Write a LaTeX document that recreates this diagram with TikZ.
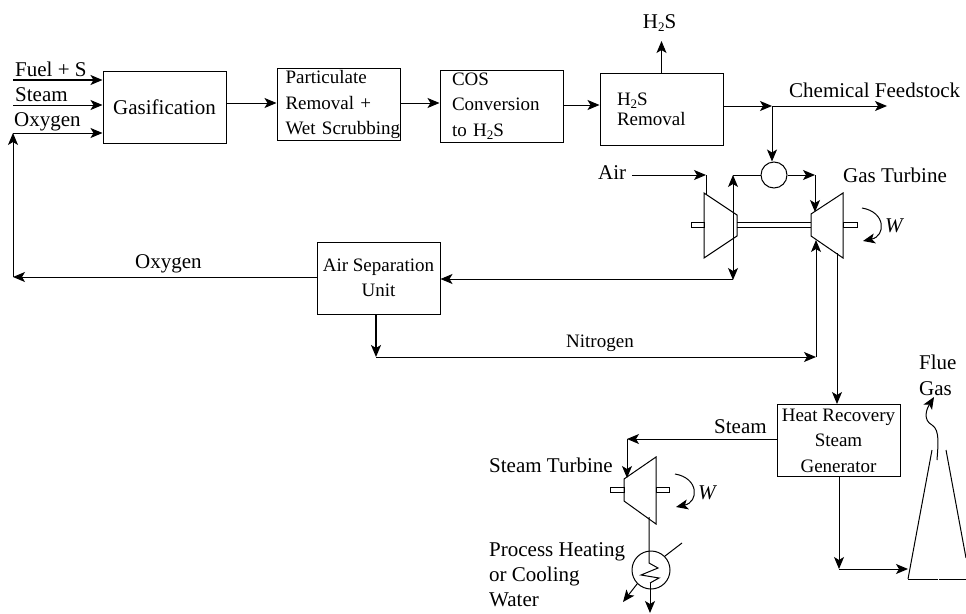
\documentclass[tikz,border=0pt]{standalone}
\usepackage{fontspec}
\setmainfont{Liberation Serif}
\usetikzlibrary{arrows.meta, positioning, calc}
\newcommand{\hydS}{H\raisebox{-3.5pt}{\fontsize{13}{13}\selectfont 2}S}
\tikzset{
  unitbox/.style={draw, line width=1pt, minimum width=123, minimum height=72, inner sep=0pt, align=center, font=\fontsize{19}{25.5}\selectfont},
  leftbox/.style={unitbox, align=left},
  lab/.style={inner sep=0pt, anchor=base west, align=left, font=\fontsize{21}{21}\selectfont},
  labsmall/.style={inner sep=0pt, anchor=base west, font=\fontsize{19}{19}\selectfont},
  arrow/.style={-{Stealth[length=12pt, width=10pt, inset=3pt]}, line width=1pt},
  twoway/.style={{Stealth[length=12pt, width=10pt, inset=3pt]}-{Stealth[length=12pt, width=10pt, inset=3pt]}, line width=1pt},
  thickarrow/.style={arrow, line width=1.6pt},
  pipe/.style={line width=1pt},
  mixer/.style={draw, circle, line width=1pt, minimum size=26, inner sep=0pt}
}
\begin{document}
\begin{tikzpicture}[x=1pt, y=-1pt]
\useasboundingbox (0,0) rectangle (966,613);
\node[unitbox, font=\fontsize{21}{25}\selectfont] (gasif) at (164.5,107) {Gasification};
\node[leftbox, text width=106, inner xsep=8.5] (partic) at (338.5,104.5) {Particulate\\Removal +\\\mbox{Wet Scrubbing}};
\node[leftbox, text width=99, inner xsep=12] (cos) at (501.5,106) {COS\\Conversion\\to \hydS};
\node[leftbox, text width=89, inner xsep=17, font=\fontsize{19}{20}\selectfont] (hsrem) at (661.5,109) {\hydS\\Removal};
\node[unitbox] (asu) at (378.5,278) {Air Separation\\Unit};
\node[unitbox] (hrsg) at (838.5,440.5) {Heat Recovery\\Steam\\Generator};
\node[mixer] (mix) at (774,175) {};
\node[draw, circle, line width=1pt, minimum size=38, inner sep=0pt] (cooler) at (651,570) {};

\node[lab] (fuel) at (15,76) {Fuel + S};
\node[lab] (steamin) at (15,101) {Steam};
\node[lab] (oxin) at (14,126) {Oxygen};
\node[lab, anchor=base] (hstop) at (659.5,28) {\hydS};
\node[lab] (feed) at (789,97) {Chemical Feedstock};
\node[lab] (air) at (598,179) {Air};
\node[lab] (gast) at (843,182) {Gas Turbine};
\node[lab, font=\fontsize{21}{21}\selectfont\itshape] (wgas) at (885,232) {W};
\node[lab] (oxlab) at (135,268) {Oxygen};
\node[labsmall] (nitro) at (566,347) {Nitrogen};
\node[lab] (steamlab) at (714,433) {Steam};
\node[lab] (stturb) at (489,472) {Steam Turbine};
\node[lab, font=\fontsize{21}{21}\selectfont\itshape] (wst) at (698,499) {W};
\node[lab] (flue) at (919,369) {Flue};
\node[lab] (gaslab) at (919,395) {Gas};
\node[lab] (proc) at (489,556) {Process Heating};
\node[lab] (orcool) at (489,581) {or Cooling};
\node[lab] (water) at (489,606) {Water};

\coordinate (fuelst) at (13,80);
\coordinate (steamst) at (13,105);
\coordinate (oxst) at (13,133);
\coordinate (oxend) at (13,277);
\coordinate (split) at (772,106);
\coordinate (feedend) at (887,106);
\coordinate (airst) at (632,175);
\coordinate (airend) at (706,175);
\coordinate (compin) at (706,195);
\coordinate (bleedtop) at (733,175);
\coordinate (bleedbot) at (733,280);
\coordinate (fuelcorner) at (815,175);
\coordinate (turbin) at (815,212);
\coordinate (nitroin) at (816,240);
\coordinate (nitrocorner) at (816,357);
\coordinate (nitrost) at (376,357);
\coordinate (exh) at (837,253);
\coordinate (steamcorner) at (627,439);
\coordinate (stin) at (627,478);
\coordinate (stout) at (649,517);
\coordinate (stackcorner) at (839,569);
\coordinate (stackin) at (908,569);

\draw[thickarrow] (fuelst) -- (gasif.west |- fuelst);
\draw[arrow] (steamst) -- (gasif.west |- steamst);
\draw[arrow] (oxst) -- (gasif.west |- oxst);
\draw[arrow] (gasif.east |- 0,103) -- (partic.west |- 0,103);
\draw[arrow] (partic.east |- 0,103) -- (cos.west |- 0,103);
\draw[arrow] (cos.east |- 0,105) -- (hsrem.west |- 0,105);
\draw[arrow] (hsrem.north) -- (661.5,41);
\draw[arrow] (hsrem.east |- split) -- (split);
\draw[arrow] (split) -- (feedend);
\draw[arrow] (split) -- (mix.north -| split);
\draw[arrow] (airst) -- (airend);
\draw[pipe] (airend) -- (compin);
\draw[pipe] (mix.west) -- (bleedtop);
\draw[twoway] (bleedtop) -- (bleedbot);
\draw[arrow] (bleedbot |- 0,279) -- (asu.east |- 0,279);
\draw[arrow] (mix.east) -- (fuelcorner);
\draw[arrow] (fuelcorner) -- (turbin);
\draw[arrow] (nitrocorner) -- (nitroin);
\draw[arrow] (nitrost) -- (nitrocorner);
\draw[thickarrow] (asu.south -| nitrost) -- (nitrost);
\draw[arrow] (asu.west |- oxend) -- (oxend);
\draw[arrow] (oxend) -- (oxst);
\draw[arrow] (exh) -- (hrsg.north -| exh);
\draw[arrow] (hrsg.west |- steamcorner) -- (steamcorner);
\draw[arrow] (steamcorner) -- (stin);
\draw[arrow] (hrsg.south -| stackcorner) -- (stackcorner);
\draw[arrow] (stackcorner) -- (stackin);

\draw[pipe] (704,193) -- (737,215) -- (737,236) -- (704,258) -- cycle;
\draw[pipe] (811,214) -- (843,193) -- (843,258) -- (811,236) -- cycle;
\draw[pipe] (691,222) rectangle (704,227);
\draw[pipe] (843,222) rectangle (857,227);
\draw[pipe] (737,222) -- (811,222);
\draw[pipe] (737,227) -- (811,227);
\draw[arrow] (862,208) .. controls (886,212) and (886,236) .. (863,241);

\draw[pipe] (624,479) -- (656,457) -- (656,524) -- (624,501) -- cycle;
\draw[pipe] (610,487) rectangle (624,492);
\draw[pipe] (656,487) rectangle (669,492);
\draw[arrow] (675,474) .. controls (699,478) and (699,502) .. (676,507);
\draw[pipe] (stout) -- (649,563) -- (658,568) -- (641,575) -- (659,578) -- (650,583);
\draw[arrow] (650,583) -- (650,613);
\draw[pipe] (cooler.45) -- (682,543);
\draw[arrow] (cooler.225) -- (623,602);

\draw[pipe] (932,450) -- (908,579);
\draw[pipe] (946,450) -- (966,558);
\draw[pipe] (908,579) -- (938,579);
\draw[pipe] (939,579) -- (966,579);
\draw[arrow] (937,460) .. controls (938,445) and (940,430) .. (932,425) .. controls (923,420) and (926,410) .. (934,397);
\end{tikzpicture}
\end{document}
